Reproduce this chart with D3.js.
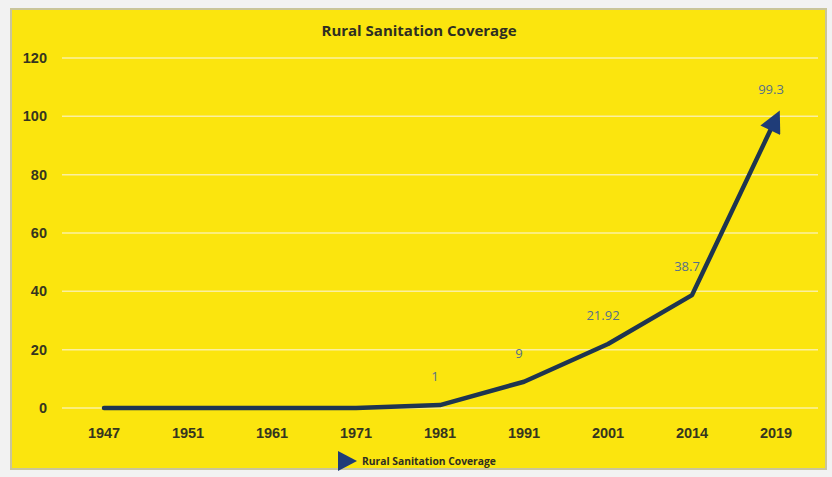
<!DOCTYPE html>
<html>
<head>
<meta charset="utf-8">
<script src="https://cdn.jsdelivr.net/npm/d3@7"></script>
<style>
  body { margin: 0; background: #fff; }
  svg { display: block; font-family: "Open Sans", "DejaVu Sans", sans-serif; }
</style>
</head>
<body>
<div id="chart"></div>
<script>
const years = ["1947", "1951", "1961", "1971", "1981", "1991", "2001", "2014", "2019"];
const coverage = [0, 0, 0, 0, 1, 9, 21.92, 38.7, 99.3];
const labelled = [false, false, false, false, true, true, true, true, true];
const yTicks = [0, 20, 40, 60, 80, 100, 120];
const seriesName = "Rural Sanitation Coverage";

const width = 832;
const height = 477;
const margin = { top: 58, right: 14, bottom: 69, left: 62 };

const data = years.map((y, i) => ({ year: y, value: coverage[i], label: labelled[i] }));

const svg = d3.select("#chart").append("svg")
  .attr("width", width)
  .attr("height", height);

// outer frame
svg.append("rect")
  .attr("x", 0).attr("y", 0)
  .attr("width", width).attr("height", height)
  .attr("fill", "#f2f2f2");
svg.append("rect")
  .attr("x", 11).attr("y", 9)
  .attr("width", 815).attr("height", 460)
  .attr("fill", "#fbe50e")
  .attr("stroke", "#c9c59a")
  .attr("stroke-width", 2);

const x = d3.scaleBand()
  .domain(years)
  .range([margin.left, width - margin.right]);

const y = d3.scaleLinear()
  .domain([0, 120])
  .range([height - margin.bottom, margin.top]);

// gridlines
svg.append("g")
  .selectAll("line")
  .data(yTicks)
  .join("line")
  .attr("x1", margin.left)
  .attr("x2", width - margin.right)
  .attr("y1", (d) => y(d))
  .attr("y2", (d) => y(d))
  .attr("stroke", "#fbf0a0")
  .attr("stroke-width", 1.5);

// y axis labels
const yAxis = svg.append("g")
  .attr("transform", `translate(${margin.left},0)`)
  .call(d3.axisLeft(y).tickValues(yTicks).tickSize(0).tickPadding(15));
yAxis.select(".domain").remove();
yAxis.selectAll("text")
  .attr("fill", "#35351f")
  .attr("font-size", 14.5)
  .attr("font-weight", "bold");

// x axis labels
const xAxis = svg.append("g")
  .attr("transform", `translate(0,${height - margin.bottom})`)
  .call(d3.axisBottom(x).tickSize(0).tickPadding(20));
xAxis.select(".domain").remove();
xAxis.selectAll("text")
  .attr("fill", "#35351f")
  .attr("font-size", 14.5)
  .attr("font-weight", "bold");

// title
svg.append("text")
  .attr("x", 419)
  .attr("y", 36)
  .attr("text-anchor", "middle")
  .attr("fill", "#2e2e22")
  .attr("font-size", 15)
  .attr("font-weight", "bold")
  .text(seriesName);

// arrow marker
svg.append("defs").append("marker")
  .attr("id", "arrow")
  .attr("viewBox", "0 0 10 10")
  .attr("refX", 6)
  .attr("refY", 5)
  .attr("markerUnits", "userSpaceOnUse")
  .attr("markerWidth", 24)
  .attr("markerHeight", 22)
  .attr("orient", "auto")
  .append("path")
  .attr("d", "M0,0L10,5L0,10Z")
  .attr("fill", "#1f3c78");

const line = d3.line()
  .x((d) => x(d.year) + x.bandwidth() / 2)
  .y((d) => y(d.value));

svg.append("path")
  .datum(data)
  .attr("fill", "none")
  .attr("stroke", "#1e3550")
  .attr("stroke-width", 4.5)
  .attr("stroke-linejoin", "round")
  .attr("stroke-linecap", "round")
  .attr("marker-end", "url(#arrow)")
  .attr("d", line);

// data labels
svg.append("g")
  .selectAll("text")
  .data(data.filter((d) => d.label))
  .join("text")
  .attr("x", (d) => x(d.year) + x.bandwidth() / 2 - 5)
  .attr("y", (d) => y(d.value) - 24)
  .attr("text-anchor", "middle")
  .attr("fill", "#56708a")
  .attr("font-size", 13)
  .text((d) => d.value);

// legend
const legend = svg.append("g").attr("transform", "translate(338,461)");
legend.append("path")
  .attr("d", "M0,-10L19,0L0,10Z")
  .attr("fill", "#1f3c78");
legend.append("text")
  .attr("x", 24)
  .attr("y", 3.5)
  .attr("fill", "#2e2e22")
  .attr("font-size", 10.3)
  .attr("font-weight", "bold")
  .text(seriesName);
</script>
</body>
</html>
